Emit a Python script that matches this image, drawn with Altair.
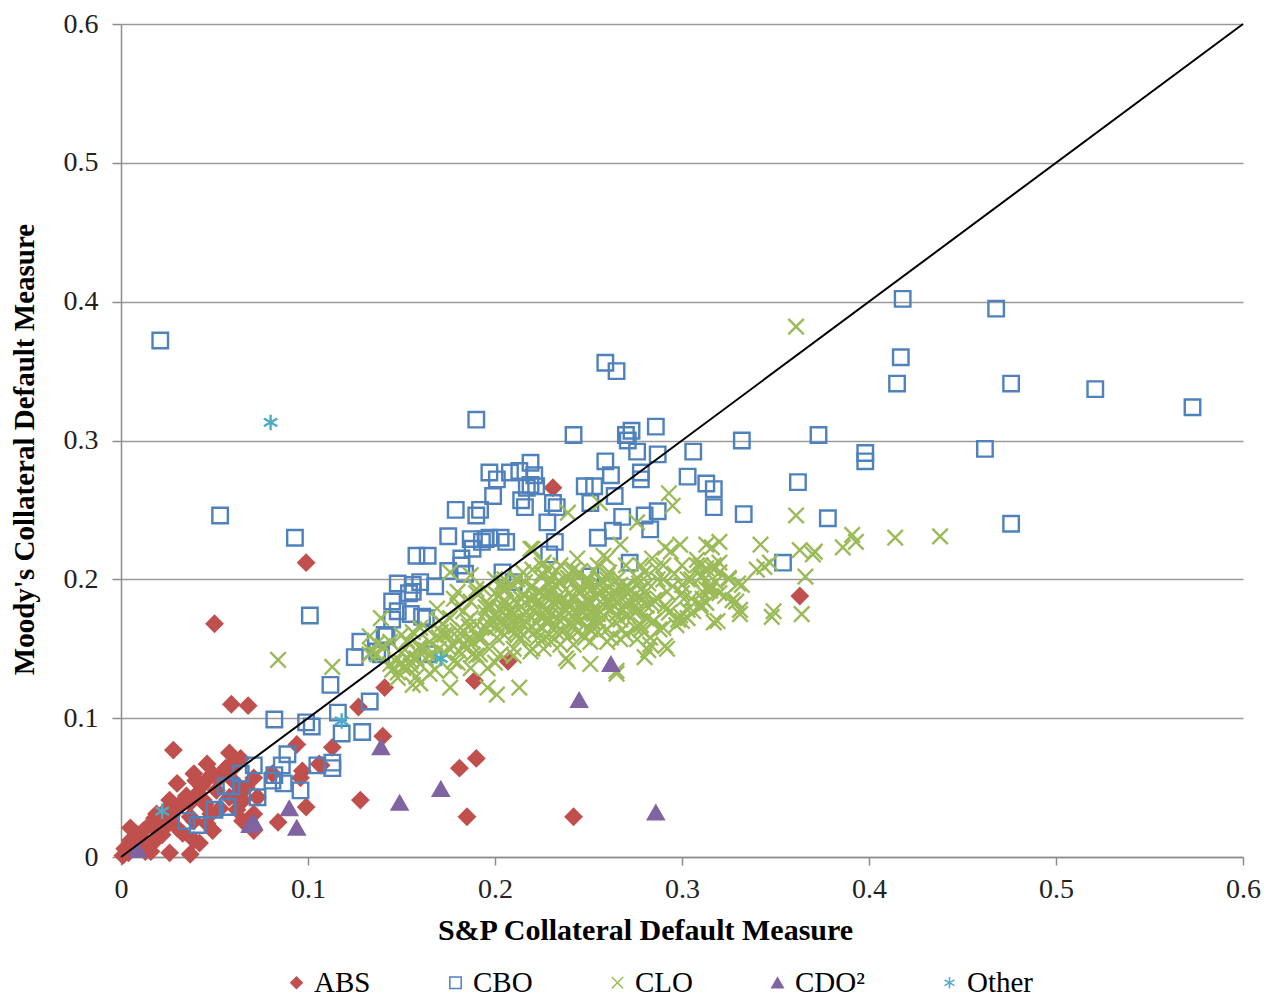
import altair as alt
import pandas as pd

# ---------------- data ----------------
abs_x = [0.099, 0.050, 0.231, 0.363, 0.059, 0.068, 0.127, 0.141, 0.189, 0.207, 0.140, 0.094, 0.107, 0.113,
         0.097, 0.096, 0.099, 0.084, 0.128, 0.181, 0.190, 0.185, 0.242, 0.028, 0.005, 0.026, 0.037,
         0.058, 0.046, 0.039, 0.049, 0.030, 0.043, 0.051, 0.035, 0.044, 0.026, 0.030, 0.019, 0.022,
         0.016, 0.012, 0.009, 0.005, 0.002, 0.017, 0.062, 0.065, 0.071, 0.046, 0.049, 0.058, 0.065,
         0.073, 0.039, 0.055, 0.060, 0.030, 0.033, 0.039, 0.042, 0.012, 0.016, 0.071, 0.048, 0.053,
         0.037, 0.022, 0.081, 0.106, 0.064, 0.047, 0.060, 0.067, 0.037, 0.064, 0.071,
         0.001, 0.004, 0.008, 0.011, 0.014, 0.020, 0.024, 0.027, 0.033, 0.041, 0.052, 0.056, 0.040,
         0.025, 0.018, 0.008, 0.013, 0.060, 0.045, 0.064]
abs_y = [0.212, 0.168, 0.266, 0.188, 0.110, 0.109, 0.108, 0.122, 0.127, 0.141, 0.087, 0.081, 0.066, 0.079,
         0.062, 0.057, 0.036, 0.025, 0.041, 0.064, 0.071, 0.029, 0.029, 0.077, 0.021, 0.003, 0.002,
         0.075, 0.067, 0.060, 0.060, 0.053, 0.051, 0.048, 0.044, 0.041, 0.041, 0.036, 0.031, 0.026,
         0.024, 0.019, 0.016, 0.012, 0.006, 0.010, 0.034, 0.026, 0.019, 0.024, 0.019, 0.043, 0.041,
         0.043, 0.026, 0.060, 0.064, 0.021, 0.017, 0.012, 0.010, 0.007, 0.004, 0.057, 0.031, 0.035,
         0.029, 0.016, 0.060, 0.067, 0.071, 0.057, 0.055, 0.050, 0.039, 0.039, 0.031,
         0.001, 0.003, 0.008, 0.012, 0.009, 0.018, 0.022, 0.030, 0.040, 0.046, 0.056, 0.064, 0.055,
         0.035, 0.028, 0.014, 0.004, 0.068, 0.038, 0.048]

cbo_x = [0.021, 0.053, 0.093, 0.101, 0.082, 0.099, 0.102, 0.112, 0.116, 0.118, 0.113, 0.113, 0.105, 0.129,
         0.133, 0.125, 0.128, 0.137, 0.142, 0.145, 0.148, 0.148, 0.155, 0.154, 0.158, 0.164, 0.160,
         0.163, 0.168, 0.175, 0.175, 0.179, 0.182, 0.182, 0.184, 0.187, 0.188, 0.190, 0.192, 0.190,
         0.193, 0.197, 0.199, 0.201, 0.203, 0.206, 0.204, 0.208, 0.213, 0.214, 0.216, 0.219, 0.217,
         0.219, 0.221, 0.222, 0.228, 0.229, 0.231, 0.233, 0.232, 0.242, 0.248, 0.253, 0.251, 0.255,
         0.259, 0.265, 0.259, 0.262, 0.263, 0.264, 0.268, 0.270, 0.271, 0.273, 0.276, 0.278, 0.278,
         0.280, 0.283, 0.286, 0.287, 0.287, 0.272, 0.251, 0.303, 0.306, 0.313, 0.317, 0.317, 0.332,
         0.333, 0.354, 0.362, 0.373, 0.378, 0.398, 0.398, 0.415, 0.417, 0.418, 0.462, 0.468, 0.476,
         0.476, 0.521, 0.573,
         0.089, 0.086, 0.082, 0.081, 0.087, 0.096, 0.073, 0.064, 0.071, 0.056, 0.059, 0.057, 0.050,
         0.035, 0.041, 0.210, 0.139, 0.141, 0.164, 0.195, 0.197, 0.161, 0.156, 0.145, 0.156]
cbo_y = [0.372, 0.246, 0.230, 0.174, 0.099, 0.097, 0.094, 0.124, 0.104, 0.089, 0.068, 0.064, 0.066, 0.090,
         0.112, 0.144, 0.155, 0.148, 0.159, 0.171, 0.177, 0.197, 0.175, 0.190, 0.217, 0.217, 0.198,
         0.172, 0.195, 0.231, 0.206, 0.250, 0.210, 0.215, 0.204, 0.229, 0.222, 0.246, 0.250, 0.315,
         0.227, 0.277, 0.260, 0.272, 0.230, 0.227, 0.205, 0.277, 0.278, 0.257, 0.252, 0.284, 0.266,
         0.268, 0.275, 0.267, 0.241, 0.218, 0.255, 0.252, 0.227, 0.304, 0.267, 0.267, 0.255, 0.230,
         0.356, 0.350, 0.285, 0.275, 0.235, 0.260, 0.245, 0.304, 0.300, 0.307, 0.292, 0.277, 0.272,
         0.246, 0.236, 0.310, 0.290, 0.249, 0.212, 0.202, 0.274, 0.292, 0.269, 0.265, 0.252, 0.300,
         0.247, 0.212, 0.270, 0.304, 0.244, 0.291, 0.285, 0.341, 0.360, 0.402, 0.294, 0.395, 0.341,
         0.240, 0.337, 0.324,
         0.074, 0.066, 0.059, 0.055, 0.053, 0.048, 0.043, 0.060, 0.066, 0.051, 0.051, 0.036, 0.034,
         0.026, 0.023, 0.198, 0.146, 0.160, 0.146, 0.229, 0.230, 0.173, 0.196, 0.184, 0.191]

clo_x = [0.361, 0.084, 0.113, 0.133, 0.137, 0.140, 0.134, 0.137, 0.139, 0.438, 0.414, 0.393, 0.386, 0.371,
         0.363, 0.361, 0.366, 0.344, 0.347, 0.342, 0.332, 0.331, 0.329, 0.364, 0.319, 0.320, 0.316,
         0.313, 0.311, 0.293, 0.295, 0.291, 0.291, 0.282, 0.280, 0.265, 0.251, 0.238, 0.239, 0.256,
         0.276, 0.220, 0.391, 0.370, 0.317, 0.320, 0.340, 0.311, 0.313, 0.330, 0.327, 0.331, 0.349,
         0.348, 0.310,
         0.176, 0.180, 0.187, 0.190, 0.187, 0.169, 0.176, 0.171, 0.164, 0.156, 0.153, 0.144, 0.133,
         0.144, 0.148, 0.151, 0.155, 0.160, 0.156, 0.165, 0.176, 0.176, 0.187, 0.196, 0.196, 0.201,
         0.213, 0.219, 0.210, 0.203, 0.192, 0.185, 0.181, 0.192, 0.196, 0.204, 0.206, 0.197, 0.194,
         0.204, 0.212, 0.215, 0.219, 0.222, 0.226, 0.228, 0.220, 0.219, 0.226, 0.228, 0.226, 0.212,
         0.217, 0.208, 0.201, 0.187, 0.183, 0.178, 0.160,
         0.267, 0.258, 0.244, 0.242, 0.228, 0.235, 0.249, 0.260, 0.267, 0.278, 0.284, 0.294, 0.299,
         0.313, 0.317, 0.308, 0.303, 0.315, 0.311, 0.301, 0.292, 0.287, 0.278, 0.272, 0.265, 0.258,
         0.251, 0.242, 0.233, 0.228, 0.235, 0.242, 0.249, 0.258, 0.267, 0.276, 0.284, 0.292, 0.299,
         0.303, 0.297, 0.306, 0.317, 0.284, 0.278, 0.268, 0.260, 0.251, 0.244, 0.236, 0.229, 0.226,
         0.235, 0.242, 0.251, 0.260, 0.267, 0.276, 0.283, 0.292, 0.239, 0.265, 0.224, 0.224, 0.229,
         0.205, 0.210, 0.215, 0.225, 0.230, 0.235, 0.240, 0.245, 0.250, 0.255, 0.260, 0.265, 0.270,
         0.255, 0.245, 0.235, 0.225, 0.215, 0.205, 0.195, 0.190, 0.200, 0.210, 0.220, 0.230, 0.240,
         0.250, 0.260, 0.270, 0.280, 0.285, 0.290, 0.295, 0.300, 0.305, 0.310, 0.300, 0.290, 0.280,
         0.275, 0.265, 0.250, 0.240, 0.230, 0.220, 0.210, 0.200, 0.190, 0.180, 0.170, 0.165, 0.160,
         0.155, 0.150, 0.145, 0.175, 0.185, 0.195, 0.200, 0.205, 0.215, 0.225, 0.235, 0.245, 0.255,
         0.260, 0.270, 0.250, 0.240, 0.230, 0.220, 0.210, 0.200, 0.190, 0.180, 0.170, 0.160, 0.150,
         0.285, 0.275, 0.290, 0.300, 0.310, 0.320, 0.325, 0.315,
         0.198, 0.203, 0.207, 0.212, 0.217, 0.221, 0.226, 0.231, 0.236, 0.241, 0.246, 0.251, 0.256,
         0.262, 0.268, 0.273, 0.279, 0.200, 0.206, 0.211, 0.216, 0.222, 0.227, 0.232, 0.238, 0.243,
         0.248, 0.253, 0.259, 0.264, 0.270, 0.275, 0.281, 0.197, 0.202, 0.209, 0.214, 0.219, 0.224,
         0.229, 0.234, 0.239, 0.244, 0.249, 0.254, 0.261, 0.266, 0.271, 0.277, 0.203, 0.208, 0.213,
         0.218, 0.223, 0.228, 0.233, 0.237, 0.242, 0.247, 0.252, 0.257, 0.263, 0.269, 0.211, 0.218,
         0.225, 0.232, 0.239, 0.246, 0.253, 0.260, 0.204, 0.214, 0.223, 0.233, 0.243, 0.252, 0.262,
         0.173, 0.178, 0.183, 0.188, 0.168, 0.172, 0.181, 0.186, 0.191, 0.163, 0.158, 0.152, 0.147,
         0.195, 0.199, 0.204, 0.209, 0.214, 0.218, 0.223, 0.228, 0.232, 0.237, 0.242, 0.247, 0.252,
         0.257, 0.262, 0.267, 0.272, 0.277, 0.282, 0.287,
         0.201, 0.206, 0.211, 0.216, 0.221, 0.226, 0.231, 0.236, 0.241, 0.246, 0.251, 0.256, 0.261,
         0.266, 0.271, 0.276, 0.281, 0.286, 0.291, 0.296,
         0.150, 0.155, 0.160, 0.165, 0.170, 0.175, 0.180, 0.185, 0.190, 0.158, 0.163, 0.168, 0.173,
         0.178, 0.183, 0.188, 0.193, 0.148, 0.153, 0.197,
         0.300, 0.305, 0.310, 0.315, 0.320, 0.325, 0.303, 0.308, 0.313, 0.318, 0.323, 0.298, 0.288,
         0.293, 0.283, 0.278, 0.270, 0.262, 0.255, 0.248]
clo_y = [0.382, 0.142, 0.137, 0.159, 0.154, 0.152, 0.148, 0.146, 0.172, 0.231, 0.230, 0.227, 0.223, 0.220,
         0.221, 0.246, 0.202, 0.209, 0.212, 0.225, 0.196, 0.178, 0.184, 0.175, 0.170, 0.227, 0.223,
         0.208, 0.203, 0.262, 0.253, 0.223, 0.152, 0.149, 0.144, 0.134, 0.139, 0.143, 0.248, 0.255,
         0.241, 0.222, 0.232, 0.218, 0.207, 0.205, 0.207, 0.191, 0.193, 0.197, 0.185, 0.175, 0.177,
         0.173, 0.182,
         0.205, 0.191, 0.203, 0.193, 0.184, 0.179, 0.172, 0.162, 0.164, 0.162, 0.155, 0.155, 0.146,
         0.139, 0.129, 0.136, 0.141, 0.139, 0.124, 0.132, 0.134, 0.122, 0.136, 0.136, 0.122, 0.117,
         0.122, 0.148, 0.150, 0.146, 0.146, 0.150, 0.157, 0.157, 0.169, 0.167, 0.179, 0.182, 0.193,
         0.193, 0.200, 0.189, 0.179, 0.169, 0.189, 0.198, 0.207, 0.222, 0.212, 0.169, 0.157, 0.160,
         0.169, 0.177, 0.172, 0.172, 0.177, 0.186, 0.125,
         0.225, 0.217, 0.215, 0.207, 0.207, 0.198, 0.196, 0.203, 0.196, 0.210, 0.215, 0.220, 0.225,
         0.225, 0.210, 0.210, 0.200, 0.193, 0.186, 0.186, 0.191, 0.200, 0.193, 0.184, 0.184, 0.186,
         0.184, 0.186, 0.186, 0.179, 0.174, 0.172, 0.174, 0.174, 0.177, 0.177, 0.182, 0.179, 0.174,
         0.172, 0.167, 0.177, 0.169, 0.169, 0.164, 0.164, 0.164, 0.164, 0.162, 0.162, 0.160, 0.150,
         0.153, 0.153, 0.155, 0.155, 0.157, 0.157, 0.153, 0.150, 0.141, 0.132, 0.191, 0.174, 0.196,
         0.185, 0.170, 0.175, 0.180, 0.190, 0.185, 0.180, 0.190, 0.195, 0.190, 0.185, 0.190, 0.180,
         0.175, 0.170, 0.170, 0.165, 0.160, 0.160, 0.165, 0.160, 0.175, 0.185, 0.195, 0.200, 0.200,
         0.200, 0.200, 0.195, 0.190, 0.185, 0.200, 0.195, 0.190, 0.200, 0.210, 0.210, 0.210, 0.205,
         0.185, 0.175, 0.165, 0.160, 0.155, 0.150, 0.145, 0.140, 0.145, 0.140, 0.150, 0.155, 0.150,
         0.145, 0.140, 0.135, 0.160, 0.170, 0.180, 0.190, 0.200, 0.205, 0.210, 0.210, 0.205, 0.210,
         0.215, 0.210, 0.185, 0.190, 0.175, 0.185, 0.195, 0.200, 0.190, 0.180, 0.170, 0.165, 0.160,
         0.170, 0.165, 0.165, 0.170, 0.180, 0.190, 0.200, 0.195,
         0.172, 0.178, 0.168, 0.183, 0.176, 0.188, 0.181, 0.193, 0.186, 0.197, 0.191, 0.182, 0.196,
         0.188, 0.179, 0.192, 0.186, 0.165, 0.173, 0.162, 0.170, 0.163, 0.174, 0.167, 0.178, 0.171,
         0.181, 0.175, 0.180, 0.170, 0.183, 0.176, 0.181, 0.180, 0.188, 0.177, 0.186, 0.194, 0.182,
         0.189, 0.198, 0.184, 0.192, 0.199, 0.187, 0.194, 0.201, 0.190, 0.197, 0.178, 0.164, 0.157,
         0.164, 0.158, 0.168, 0.162, 0.172, 0.166, 0.176, 0.169, 0.191, 0.187, 0.192, 0.200, 0.186,
         0.204, 0.182, 0.201, 0.179, 0.206, 0.203, 0.198, 0.180, 0.184, 0.206, 0.176, 0.170, 0.178,
         0.160, 0.152, 0.163, 0.155, 0.145, 0.168, 0.148, 0.166, 0.158, 0.149, 0.143, 0.137, 0.141,
         0.176, 0.169, 0.181, 0.174, 0.186, 0.163, 0.191, 0.171, 0.196, 0.179, 0.167, 0.193, 0.176,
         0.199, 0.183, 0.171, 0.192, 0.179, 0.197, 0.186,
         0.158, 0.193, 0.166, 0.198, 0.178, 0.203, 0.184, 0.163, 0.206, 0.182, 0.192, 0.168, 0.205,
         0.195, 0.174, 0.201, 0.172, 0.208, 0.181, 0.204,
         0.147, 0.138, 0.152, 0.145, 0.158, 0.151, 0.163, 0.156, 0.167, 0.130, 0.143, 0.135, 0.147,
         0.141, 0.152, 0.146, 0.158, 0.133, 0.156, 0.150,
         0.196, 0.186, 0.202, 0.192, 0.212, 0.201, 0.178, 0.214, 0.183, 0.198, 0.188, 0.171, 0.164,
         0.176, 0.158, 0.167, 0.160, 0.158, 0.162, 0.158]

cdo_x = [0.245, 0.262, 0.286, 0.139, 0.149, 0.171, 0.090, 0.094, 0.069, 0.071, 0.009]
cdo_y = [0.113, 0.139, 0.032, 0.079, 0.039, 0.049, 0.035, 0.021, 0.023, 0.025, 0.005]

oth_x = [0.080, 0.022, 0.118, 0.171]
oth_y = [0.313, 0.033, 0.098, 0.143]

diag_x = [0.0, 0.6]
diag_y = [0.0, 0.6]

types = ["ABS", "CBO", "CLO", "CDO²", "Other"]
stroke_cols = ["#C0504D", "#4F81BD", "#9BBB59", "#8064A2", "#4BACC6"]
fill_cols = ["#C0504D", "#ffffff00", "#ffffff00", "#8064A2", "#ffffff00"]
X_PATH = "M-1,-1L1,1M-1,1L1,-1"
AST_PATH = "M0,-1L0,1M-0.87,-0.5L0.87,0.5M-0.87,0.5L0.87,-0.5"
shapes = ["diamond", "square", X_PATH, "triangle-up", AST_PATH]

series = [(abs_x, abs_y), (cbo_x, cbo_y), (clo_x, clo_y), (cdo_x, cdo_y), (oth_x, oth_y)]
rows = []
for t, (xs, ys) in zip(types, series):
    for a, b in zip(xs, ys):
        rows.append({"sp": a, "moody": b, "type": t})
df = pd.DataFrame(rows)
df_line = pd.DataFrame({"sp": diag_x, "moody": diag_y})

FONT = "Liberation Serif"

xscale = alt.Scale(domain=[0, 0.6], nice=False)
yscale = alt.Scale(domain=[0, 0.6], nice=False)

points = alt.Chart(df).mark_point(opacity=1, strokeWidth=2.4, filled=False, size=240).encode(
    x=alt.X("sp:Q", scale=xscale, title="S&P Collateral Default Measure",
            axis=alt.Axis(values=[0, 0.1, 0.2, 0.3, 0.4, 0.5, 0.6], format="~g", grid=False,
                          labelFlush=False, tickSize=8, labelPadding=10, titleX=524, titleY=58,
                          titleBaseline="top", titleAlign="center", titleFontSize=30)),
    y=alt.Y("moody:Q", scale=yscale, title="Moody's Collateral Default Measure",
            axis=alt.Axis(values=[0, 0.1, 0.2, 0.3, 0.4, 0.5, 0.6], format="~g", grid=True,
                          labelFlush=False, tickSize=9, labelPadding=14, titleX=-88, titleY=425,
                          titleBaseline="alphabetic", titleAlign="center")),
    color=alt.Color("type:N", scale=alt.Scale(domain=types, range=stroke_cols), title=None),
    fill=alt.Fill("type:N", scale=alt.Scale(domain=types, range=fill_cols), title=None),
    shape=alt.Shape("type:N", scale=alt.Scale(domain=types, range=shapes), title=None),
)

line = alt.Chart(df_line).mark_line(color="black", strokeWidth=2).encode(
    x=alt.X("sp:Q", scale=xscale),
    y=alt.Y("moody:Q", scale=yscale),
)

chart = alt.layer(points, line).properties(
    width=1122, height=833,
    autosize=alt.AutoSizeParams(type="none"),
    padding={"left": 113, "top": 16, "right": 24, "bottom": 140},
).configure_view(stroke=None).configure_axis(
    labelFont=FONT, labelFontSize=28, labelColor="#222222",
    titleFont=FONT, titleFontSize=29, titleFontWeight="bold", titleColor="#000000",
    domainColor="#8c8c8c", tickColor="#8c8c8c", gridColor="#9a9a9a", gridWidth=1.5,
    domainWidth=1.5, tickWidth=1.5,
).configure_legend(
    orient="none", legendX=161, legendY=944, direction="horizontal", columns=5,
    columnPadding=70, labelFont=FONT, labelFontSize=29, labelColor="#000000",
    symbolSize=130, symbolStrokeWidth=1.5, labelOffset=3,
)

chart.save("out.html", embed_options={"renderer": "svg", "actions": False})
